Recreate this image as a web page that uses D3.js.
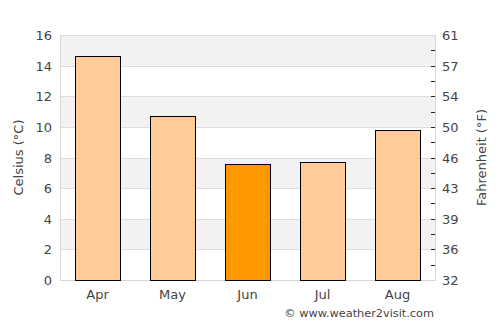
<!DOCTYPE html>
<html>
<head>
<meta charset="utf-8">
<script src="https://cdn.jsdelivr.net/npm/d3@7"></script>
<style>
    body { margin: 0; background: #fff; }
    text { font-family: "DejaVu Sans", sans-serif; fill: #444; }
</style>
</head>
<body>
<svg id="chart" width="500" height="325"></svg>
<script>
    // Chart data
    var months = ['Apr', 'May', 'Jun', 'Jul', 'Aug'],
        celsius = [14.6, 10.7, 7.6, 7.7, 9.8],
        highlight = ['Jun'],
        celsiusTicks = [0, 2, 4, 6, 8, 10, 12, 14, 16],
        fahrenheitLabels = ['32', '36', '39', '43', '46', '50', '54', '57', '61'];

    var MARGIN = { top: 35, right: 65, bottom: 45, left: 60 },
        WIDTH = 500,
        HEIGHT = 325,
        COLORS = {
            bar: '#ffcc99',
            active: '#ff9900',
            band: '#f2f2f2',
            grid: '#dddddd'
        };

    var svg = d3.select('#chart');
    var innerW = WIDTH - MARGIN.left - MARGIN.right,
        innerH = HEIGHT - MARGIN.top - MARGIN.bottom;

    var x = d3.scaleBand()
        .domain(months)
        .range([MARGIN.left, MARGIN.left + innerW])
        .paddingInner(0.4)
        .paddingOuter(0.2);

    var y = d3.scaleLinear()
        .domain([0, 16])
        .range([MARGIN.top + innerH, MARGIN.top]);

    // Alternating background stripes
    svg.append('g')
        .selectAll('rect')
        .data(celsiusTicks.slice(0, -1))
        .enter()
        .append('rect')
        .attr('x', MARGIN.left)
        .attr('width', innerW)
        .attr('y', function(d) { return y(d + 2); })
        .attr('height', function(d) { return y(d) - y(d + 2); })
        .attr('fill', function(d, i) { return i % 2 ? COLORS.band : '#fff'; });

    // Grid lines
    svg.append('g')
        .selectAll('line')
        .data(celsiusTicks)
        .enter()
        .append('line')
        .attr('x1', MARGIN.left)
        .attr('x2', MARGIN.left + innerW)
        .attr('y1', function(d) { return Math.round(y(d)) + 0.5; })
        .attr('y2', function(d) { return Math.round(y(d)) + 0.5; })
        .attr('stroke', COLORS.grid);

    // Plot frame (left, right, bottom)
    svg.append('path')
        .attr('d', 'M' + (MARGIN.left + 0.5) + ',' + MARGIN.top +
            'V' + (MARGIN.top + innerH + 0.5) +
            'H' + (MARGIN.left + innerW + 0.5) +
            'V' + MARGIN.top)
        .attr('fill', 'none')
        .attr('stroke', '#d6d6d6');

    // Bars
    svg.append('g')
        .selectAll('rect')
        .data(celsius)
        .enter()
        .append('rect')
        .attr('x', function(d, i) { return Math.round(x(months[i])) + 0.5; })
        .attr('y', function(d) { return Math.round(y(d)) + 0.5; })
        .attr('width', Math.round(x.bandwidth()))
        .attr('height', function(d) { return Math.round(y(0)) - Math.round(y(d)); })
        .attr('fill', function(d, i) {
            return highlight.indexOf(months[i]) >= 0 ? COLORS.active : COLORS.bar;
        })
        .attr('stroke', '#000')
        .attr('stroke-width', 1);

    // Left axis labels
    svg.append('g')
        .selectAll('text')
        .data(celsiusTicks)
        .enter()
        .append('text')
        .attr('x', 52)
        .attr('y', function(d) { return y(d) + 5; })
        .attr('text-anchor', 'end')
        .attr('font-size', 13)
        .text(function(d) { return d; });

    // Right axis: small ticks every degree Celsius, labels in Fahrenheit
    svg.append('g')
        .selectAll('line')
        .data(d3.range(1, 16))
        .enter()
        .append('line')
        .attr('x1', MARGIN.left + innerW - 4)
        .attr('x2', MARGIN.left + innerW)
        .attr('y1', function(d) { return Math.round(y(d)) + 0.5; })
        .attr('y2', function(d) { return Math.round(y(d)) + 0.5; })
        .attr('stroke', '#222');

    svg.append('g')
        .selectAll('text')
        .data(celsiusTicks)
        .enter()
        .append('text')
        .attr('x', 442)
        .attr('y', function(d) { return y(d) + 5; })
        .attr('font-size', 13)
        .text(function(d, i) { return fahrenheitLabels[i]; });

    // Month labels
    svg.append('g')
        .selectAll('text')
        .data(months)
        .enter()
        .append('text')
        .attr('x', function(d) { return x(d) + x.bandwidth() / 2; })
        .attr('y', 299)
        .attr('text-anchor', 'middle')
        .attr('font-size', 13)
        .text(function(d) { return d; });

    // Axis titles
    svg.append('text')
        .attr('transform', 'translate(23,' + (MARGIN.top + innerH / 2) + ') rotate(-90)')
        .attr('text-anchor', 'middle')
        .attr('font-size', 13)
        .text('Celsius (°C)');

    svg.append('text')
        .attr('transform', 'translate(486,' + (MARGIN.top + innerH / 2) + ') rotate(-90)')
        .attr('text-anchor', 'middle')
        .attr('font-size', 13)
        .text('Fahrenheit (°F)');

    // Credit
    svg.append('text')
        .attr('x', 434)
        .attr('y', 317)
        .attr('text-anchor', 'end')
        .attr('font-size', 11.3)
        .text('© www.weather2visit.com');
</script>
</body>
</html>
